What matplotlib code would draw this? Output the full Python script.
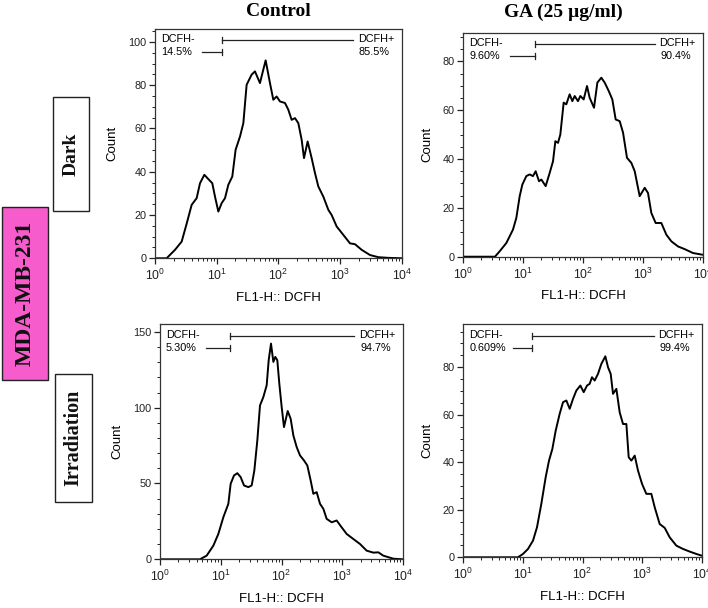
import numpy as np
import matplotlib.pyplot as plt
from matplotlib.patches import Rectangle
from matplotlib.ticker import LogLocator, MultipleLocator, NullFormatter

plt.rcParams['font.family'] = ['Liberation Sans', 'DejaVu Sans']
plt.rcParams['mathtext.default'] = 'regular'

SERIF = ['Liberation Serif', 'DejaVu Serif']

# ---------------------------------------------------------------------
# histogram traces (x as log10 of FL1-H, y = count)
# ---------------------------------------------------------------------
dark_ctrl_log = [0.0, 0.19, 0.216, 0.324, 0.432, 0.513, 0.594, 0.675, 0.729, 0.799, 0.864, 0.928,
                 0.972, 1.026, 1.080, 1.134, 1.188, 1.252, 1.306, 1.377, 1.431, 1.484,
                 1.565, 1.619, 1.700, 1.754, 1.792, 1.862, 1.916, 1.970, 2.024, 2.105,
                 2.159, 2.213, 2.267, 2.321, 2.375, 2.413, 2.472, 2.537, 2.591, 2.645,
                 2.726, 2.807, 2.861, 2.942, 3.050, 3.158, 3.239, 3.347, 3.482, 3.617,
                 3.779, 4.0]
dark_ctrl_count = [0, 0, 0.8, 3.9, 7.7, 16, 24.7, 27.8, 34.7, 38.6, 36.6, 34.7,
                   28.5, 21.6, 25.5, 27.8, 34, 37.8, 50.2, 56.3, 62.5, 80.2,
                   84.9, 86.4, 81, 87.2, 91.5, 81, 73.3, 74.8, 72.5, 71.8,
                   68.7, 64, 64.8, 62.5, 54.8, 46.3, 54, 46.3, 39.4, 33.2,
                   28.5, 22.4, 20, 14.7, 10.8, 6.9, 6.5, 3.9, 1.5, 0.5,
                   0.2, 0]

dark_ga_log = [0.0, 0.529, 0.607, 0.719, 0.830, 0.886, 0.942, 0.986, 1.053, 1.109, 1.164, 1.209,
               1.265, 1.304, 1.376, 1.443, 1.499, 1.538, 1.582, 1.621, 1.677, 1.721,
               1.777, 1.822, 1.861, 1.916, 1.955, 2.011, 2.067, 2.111, 2.184, 2.240,
               2.306, 2.362, 2.429, 2.490, 2.546, 2.613, 2.669, 2.735, 2.808, 2.864,
               2.947, 3.031, 3.086, 3.142, 3.214, 3.309, 3.393, 3.476, 3.588, 3.699,
               3.838, 4.0]
dark_ga_count = [0, 0, 2.2, 5.6, 11.1, 15.9, 24.8, 29.5, 33, 33.7, 33, 35,
                 30.9, 31.6, 28.9, 34.3, 39.1, 47.3, 46.6, 50, 63.1, 62.4,
                 66.5, 63.7, 65.8, 63.7, 65.8, 64.4, 69.9, 65.1, 61, 71.3,
                 73.3, 71.3, 67.9, 64.4, 56.2, 55.5, 50.8, 40.5, 38.4, 35,
                 24.8, 28.2, 26.1, 17.9, 13.8, 13.8, 9, 6.3, 4.2, 3.1,
                 1.5, 0.8]

irr_ctrl_log = [0.0, 0.658, 0.768, 0.878, 0.960, 1.043, 1.125, 1.163, 1.218, 1.273, 1.328, 1.383,
                1.454, 1.509, 1.553, 1.602, 1.646, 1.701, 1.756, 1.789, 1.827, 1.866,
                1.898, 1.931, 1.964, 2.003, 2.041, 2.102, 2.151, 2.195, 2.250, 2.305,
                2.370, 2.425, 2.480, 2.524, 2.579, 2.634, 2.689, 2.743, 2.826, 2.908,
                2.990, 3.073, 3.182, 3.292, 3.402, 3.512, 3.594, 3.676, 3.841, 4.0]
irr_ctrl_count = [0, 0, 2.4, 9, 16.7, 27.8, 36.6, 49.8, 55.3, 56.8, 54.2, 48.7,
                  47.6, 48.7, 58.6, 78.4, 101.5, 107, 114.8, 131.3, 142.3, 130.2,
                  133.5, 131.3, 115.9, 100.4, 87.2, 97.8, 92.7, 81.7, 74, 68.5,
                  65.2, 61.9, 52, 43.2, 44.3, 36.6, 33.3, 26.7, 24.4, 25.6,
                  21.1, 16.7, 13.4, 10.1, 5.7, 4.4, 4.6, 2.4, 0.4, 0]

irr_ga_log = [0.0, 0.917, 1.001, 1.085, 1.169, 1.236, 1.309, 1.382, 1.438, 1.494, 1.550, 1.617,
              1.673, 1.729, 1.785, 1.841, 1.897, 1.964, 2.020, 2.076, 2.120, 2.159,
              2.204, 2.260, 2.316, 2.383, 2.428, 2.473, 2.512, 2.568, 2.624, 2.680,
              2.736, 2.775, 2.820, 2.876, 2.931, 2.999, 3.071, 3.155, 3.211, 3.295,
              3.379, 3.463, 3.575, 3.687, 3.799, 3.911, 4.0]
irr_ga_count = [0, 0, 1.4, 3.5, 7, 12.6, 22.5, 33.7, 40.7, 45.6, 53.3, 60.4,
                65.3, 66, 62.5, 66.7, 70.2, 72.3, 69.5, 72.3, 73, 75.8,
                74.4, 77.2, 81.4, 84.6, 80, 77.2, 68.8, 70.9, 61, 56.1,
                56.1, 42.1, 40.7, 42.8, 36.5, 30.9, 26.7, 26.7, 21.1, 14,
                12.4, 8.4, 4.9, 3.5, 2.4, 1.4, 0.7]

# gate percentages (DCFH-, DCFH+)
gate_neg = ['14.5%', '9.60%', '5.30%', '0.609%']
gate_pos = ['85.5%', '90.4%', '94.7%', '99.4%']

col_titles = ['Control', 'GA (25 µg/ml)']
row_titles = ['Dark', 'Irradiation']
cell_line = 'MDA-MB-231'


def draw_panel(ax, logs, counts, ymax, ymajor, yminor, gate_x, neg_start, neg_txt, pos_txt):
    ax.plot(10 ** np.array(logs), counts, color='black', lw=1.4)
    ax.set_xscale('log')
    ax.set_xlim(1, 1e4)
    ax.set_ylim(0, ymax)

    ax.xaxis.set_major_locator(LogLocator(base=10, numticks=10))
    ax.xaxis.set_minor_locator(LogLocator(base=10, subs=np.arange(2, 10), numticks=10))
    ax.xaxis.set_minor_formatter(NullFormatter())
    ax.yaxis.set_major_locator(MultipleLocator(ymajor))
    ax.yaxis.set_minor_locator(MultipleLocator(yminor))
    ax.tick_params(which='major', length=4, width=0.9, labelsize=7.8, pad=2, colors='#222222')
    ax.tick_params(axis='x', which='major', labelsize=8.8, pad=3)
    ax.tick_params(which='minor', length=2.5, width=0.7, colors='#222222')
    for sp in ax.spines.values():
        sp.set_linewidth(0.9)
        sp.set_color('#333333')

    ax.set_xlabel('FL1-H:: DCFH', fontsize=9.5, labelpad=6)
    ax.set_ylabel('Count', fontsize=9.5, labelpad=7)

    # gate bars (DCFH- below-left, DCFH+ upper-right)
    tr = ax.transAxes
    y_hi, y_lo, cap = 0.95, 0.898, 0.013
    ax.plot([gate_x, 0.80], [y_hi, y_hi], color='#222222', lw=0.9, transform=tr)
    ax.plot([gate_x, gate_x], [y_hi - cap, y_hi + cap], color='#222222', lw=0.9, transform=tr)
    ax.plot([neg_start, gate_x], [y_lo, y_lo], color='#222222', lw=0.9, transform=tr)
    ax.plot([gate_x, gate_x], [y_lo - cap, y_lo + cap], color='#222222', lw=0.9, transform=tr)
    ax.text(0.025, y_hi + 0.005, 'DCFH-', fontsize=7.8, ha='left', va='center', transform=tr)
    ax.text(0.025, y_lo, neg_txt, fontsize=7.8, ha='left', va='center', transform=tr)
    ax.text(0.97, y_hi + 0.005, 'DCFH+', fontsize=7.8, ha='right', va='center', transform=tr)
    ax.text(0.95, y_lo, pos_txt, fontsize=7.8, ha='right', va='center', transform=tr)


fig = plt.figure(figsize=(7.08, 6.08), dpi=100)

ax1 = fig.add_axes([0.2189, 0.5752, 0.3489, 0.3771])
ax2 = fig.add_axes([0.6544, 0.5778, 0.3381, 0.3679])
ax3 = fig.add_axes([0.2260, 0.0801, 0.3432, 0.3865])
ax4 = fig.add_axes([0.6544, 0.0834, 0.3367, 0.3837])

draw_panel(ax1, dark_ctrl_log, dark_ctrl_count, 106, 20, 5, 0.27, 0.19, gate_neg[0], gate_pos[0])
draw_panel(ax2, dark_ga_log, dark_ga_count, 91.6, 20, 5, 0.30, 0.195, gate_neg[1], gate_pos[1])
draw_panel(ax3, irr_ctrl_log, irr_ctrl_count, 155, 50, 10, 0.288, 0.19, gate_neg[2], gate_pos[2])
draw_panel(ax4, irr_ga_log, irr_ga_count, 98.2, 20, 5, 0.29, 0.21, gate_neg[3], gate_pos[3])

# column headers
fig.text(278 / 708, 1 - 11 / 608, col_titles[0], family=SERIF, weight='bold', fontsize=14,
         ha='center', va='center')
fig.text(563 / 708, 1 - 12 / 608, col_titles[1], family=SERIF, weight='bold', fontsize=14,
         ha='center', va='center')

# row label boxes on the left
def label_box(x0, y0, x1, y1, text, face, size):
    fig.add_artist(Rectangle((x0 / 708, 1 - y1 / 608), (x1 - x0) / 708, (y1 - y0) / 608,
                             transform=fig.transFigure, facecolor=face, edgecolor='#222222', lw=1.0))
    fig.text((x0 + x1) / 2 / 708, 1 - (y0 + y1) / 2 / 608, text, family=SERIF, weight='bold',
             fontsize=size, rotation=90, ha='center', va='center', color='#111111')


label_box(53, 97, 89, 211, row_titles[0], 'white', 14)
label_box(2, 207, 48, 380, cell_line, '#F65CCB', 17)
label_box(55, 374, 92, 502, row_titles[1], 'white', 14.5)

fig.savefig('out.png', dpi=100)
